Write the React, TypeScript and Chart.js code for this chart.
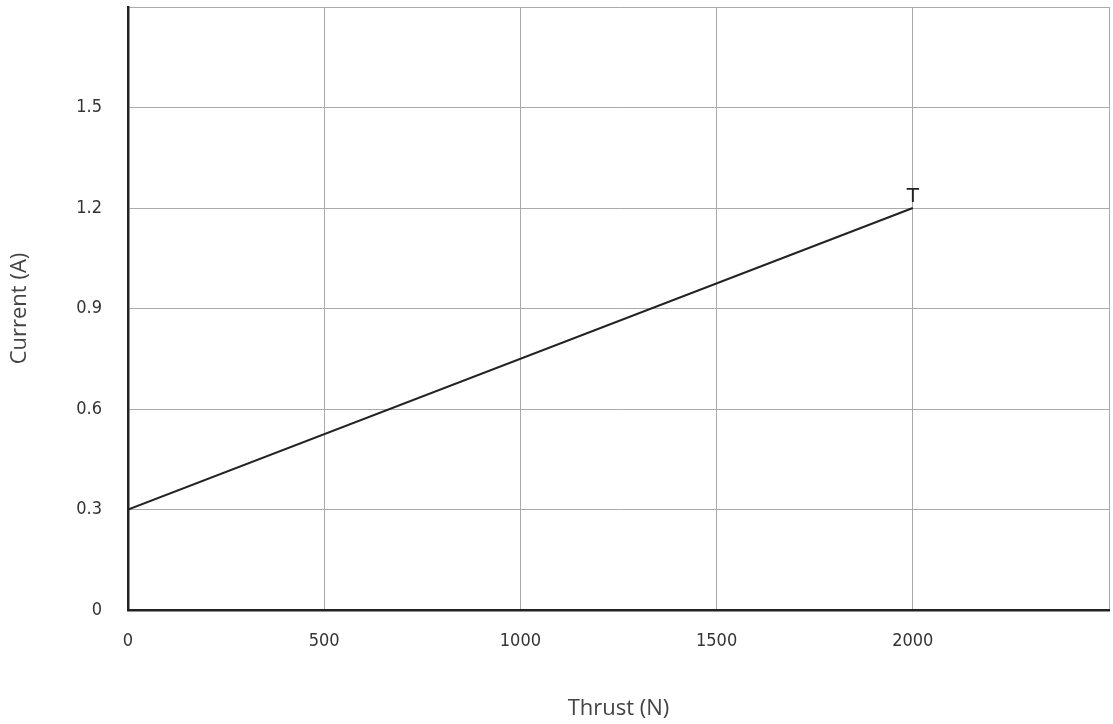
import React, { useEffect, useRef } from "react";
import { Chart, registerables } from "chart.js";

Chart.register(...registerables);

const thrustValues = [0, 2000];
const currentValues = [0.3, 1.2];
const pointLabels = ["", "T"];
const xTicks = [0, 500, 1000, 1500, 2000];
const yTicks = [0, 0.3, 0.6, 0.9, 1.2, 1.5];

const tickFont = { family: "'DejaVu Sans Condensed', sans-serif", size: 18 };
const titleFont = { family: "'Open Sans', Lato, sans-serif", size: 22 };

const labelPlugin = {
  id: "pointLabels",
  afterDatasetsDraw(chart: any) {
    const ctx = chart.ctx;
    const meta = chart.getDatasetMeta(0);
    ctx.save();
    ctx.font = "20px 'DejaVu Sans', sans-serif";
    ctx.fillStyle = "#222";
    ctx.textAlign = "center";
    ctx.textBaseline = "alphabetic";
    meta.data.forEach((el: any, i: number) => {
      if (pointLabels[i]) ctx.fillText(pointLabels[i], el.x, el.y - 6);
    });
    ctx.restore();
  },
};

const clearPadding = (scale: any) => {
  scale.paddingTop = 0;
  scale.paddingBottom = 0;
  scale.paddingLeft = 0;
  scale.paddingRight = 0;
};

export default function App() {
  const ref = useRef<HTMLCanvasElement>(null);
  useEffect(() => {
    if (!ref.current) return;
    const chart = new Chart(ref.current, {
      type: "line",
      data: {
        datasets: [
          {
            data: thrustValues.map((x, i) => ({ x, y: currentValues[i] })),
            borderColor: "#222",
            borderWidth: 2,
            pointRadius: 0,
            fill: false,
            tension: 0,
          },
        ],
      },
      options: {
        animation: false,
        responsive: false,
        layout: { padding: { top: 7, right: 4, left: 0, bottom: 0 } },
        plugins: { legend: { display: false }, tooltip: { enabled: false } },
        scales: {
          x: {
            type: "linear",
            min: 0,
            max: 2500,
            afterFit(scale: any) {
              scale.height = 114;
              clearPadding(scale);
            },
            afterBuildTicks(scale: any) {
              scale.ticks = [...xTicks, 2500].map((v) => ({ value: v }));
            },
            grid: { color: "#aaa", drawTicks: false, lineWidth: 1 },
            border: { color: "#222", width: 2.5 },
            ticks: {
              padding: 21,
              color: "#333",
              font: tickFont,
              maxRotation: 0,
              autoSkip: false,
              callback: (v: any) => (xTicks.includes(v) ? String(v) : ""),
            },
            title: { display: true, text: "Thrust (N)", color: "#444", font: titleFont, padding: { top: 0, bottom: 2 } },
          },
          y: {
            type: "linear",
            min: 0,
            max: 1.8,
            afterFit(scale: any) {
              scale.width = 128;
              clearPadding(scale);
            },
            afterBuildTicks(scale: any) {
              scale.ticks = [...yTicks, 1.8].map((v) => ({ value: v }));
            },
            grid: { color: "#aaa", drawTicks: false, lineWidth: 1 },
            border: { color: "#222", width: 2.5 },
            ticks: {
              padding: 26,
              color: "#333",
              font: tickFont,
              autoSkip: false,
              callback: (v: any) => {
                const r = Math.round(v * 10) / 10;
                if (r === 1.8) return "";
                return r === 0 ? "0" : r.toFixed(1);
              },
            },
            title: { display: true, text: "Current (A)", color: "#444", font: titleFont, padding: { top: 7, bottom: 0 } },
          },
        },
      },
      plugins: [labelPlugin],
    });
    return () => chart.destroy();
  }, []);
  return (
    <div style={{ position: "absolute", left: 0, top: 0, width: 1113, height: 724, background: "#fff" }}>
      <canvas ref={ref} width={1113} height={724} style={{ display: "block", width: 1113, height: 724 }} />
    </div>
  );
}
